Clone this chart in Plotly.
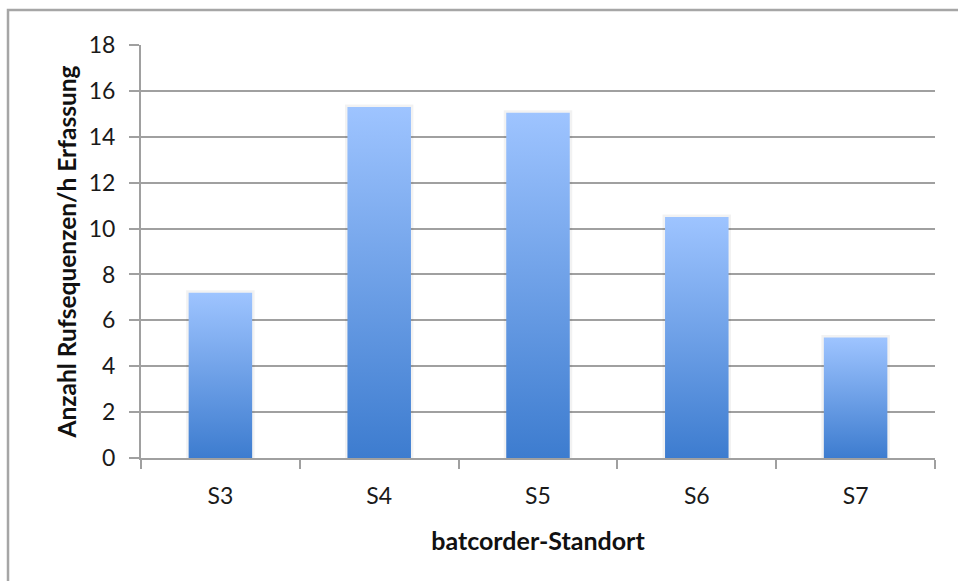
import plotly.graph_objects as go

# Recorded call sequences per hour at each batcorder location
standorte = ["S3", "S4", "S5", "S6", "S7"]
rufsequenzen = [7.2, 15.3, 15.05, 10.5, 5.25]

y_ticks = [0, 2, 4, 6, 8, 10, 12, 14, 16, 18]

BAR_HALF = 0.2          # half bar width in category units
GRID = "#a0a0a0"
FONT = "Lato, 'Open Sans', Arial, sans-serif"

fig = go.Figure()

for i, (name, val) in enumerate(zip(standorte, rufsequenzen)):
    xs = [i - BAR_HALF, i + BAR_HALF, i + BAR_HALF, i - BAR_HALF, i - BAR_HALF]
    ys = [0, 0, val, val, 0]
    # soft shadow around the bar
    fig.add_trace(go.Scatter(
        x=xs, y=ys, mode="lines",
        line=dict(color="rgba(0,0,0,0.05)", width=5),
        hoverinfo="skip", showlegend=False,
    ))
    # the bar itself, filled with a vertical blue gradient
    fig.add_trace(go.Scatter(
        x=xs, y=ys, mode="lines", fill="toself",
        line=dict(width=0, color="rgba(0,0,0,0)"),
        fillgradient=dict(
            type="vertical",
            colorscale=[[0, "#3d7ccf"], [1, "#9ec4ff"]],
        ),
        name=name, showlegend=False,
        hovertemplate=f"{name}: {val}<extra></extra>",
    ))

fig.update_layout(
    width=958, height=581,
    margin=dict(l=141, r=23, t=45, b=123),
    paper_bgcolor="white", plot_bgcolor="white",
    font=dict(family=FONT, size=23, color="#1a1a1a"),
    showlegend=False,
    xaxis=dict(
        range=[-0.5, len(standorte) - 0.5],
        tickvals=list(range(len(standorte))),
        ticktext=standorte,
        ticks="",
        showgrid=False, zeroline=False,
        showline=True, linecolor=GRID, linewidth=2,
        ticklabelstandoff=16,
        minor=dict(
            tickvals=[k - 0.5 for k in range(len(standorte) + 1)],
            ticks="outside", ticklen=9, tickcolor=GRID, tickwidth=2,
            showgrid=False,
        ),
        title=dict(text="<b>batcorder-Standort</b>", standoff=25,
                   font=dict(size=25, color="#111")),
        fixedrange=True,
    ),
    yaxis=dict(
        range=[0, 18],
        tickvals=y_ticks,
        ticks="outside", ticklen=10, tickcolor=GRID, tickwidth=2,
        showgrid=True, gridcolor=GRID, gridwidth=2,
        zeroline=False,
        showline=True, linecolor=GRID, linewidth=2,
        ticklabelstandoff=9,
        title=dict(text="<b>Anzahl Rufsequenzen/h Erfassung</b>", standoff=5,
                   font=dict(size=24.5, color="#111")),
        fixedrange=True,
    ),
    shapes=[
        dict(type="rect", xref="paper", yref="paper",
             x0=-0.1675, x1=1.2, y0=-0.5, y1=1.0847,
             line=dict(color="#a6a6a6", width=2.5), fillcolor="rgba(0,0,0,0)",
             layer="below"),
    ],
)

fig.write_html("out.html")
